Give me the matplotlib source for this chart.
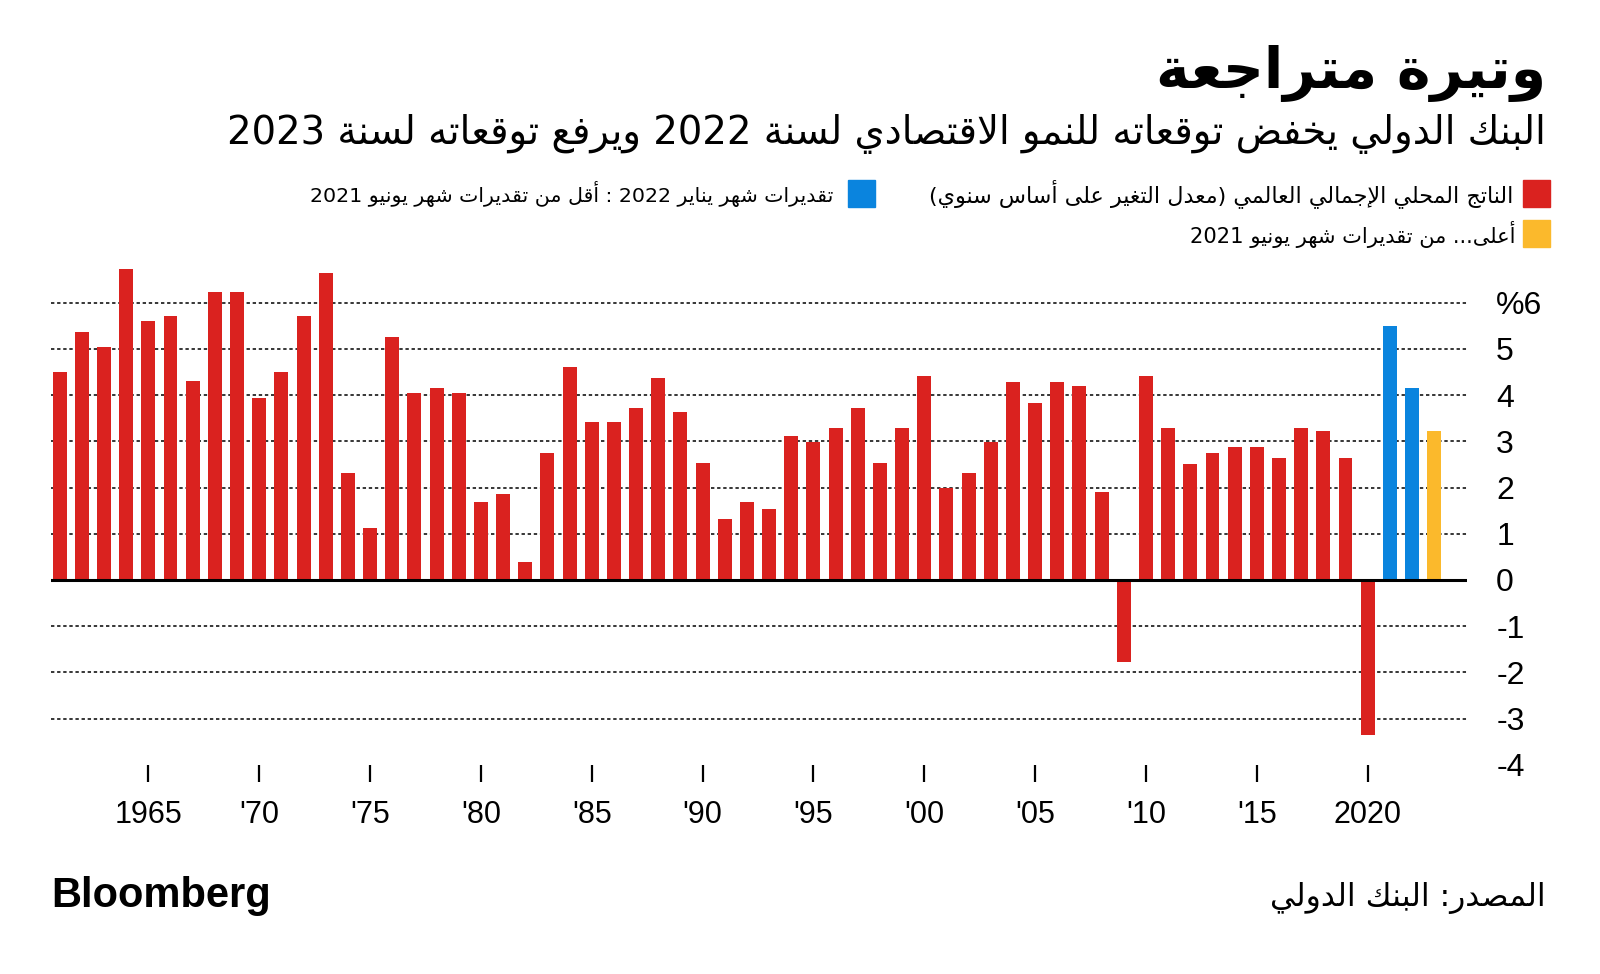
"""Bloomberg Arabic chart: world GDP growth with World Bank forecasts."""

import matplotlib

matplotlib.use("Agg")

import re  # noqa: E402

import matplotlib.pyplot as plt  # noqa: E402
from matplotlib.patches import Rectangle  # noqa: E402

# ---- data ----
years = list(range(1961, 2021))
gdp_growth = [
    4.50, 5.36, 5.05, 6.73, 5.61, 5.72, 4.30, 6.24, 6.24, 3.94,
    4.50, 5.72, 6.65, 2.31, 1.12, 5.26, 4.05, 4.16, 4.05, 1.68,
    1.87, 0.38, 2.75, 4.61, 3.41, 3.41, 3.73, 4.38, 3.63, 2.54,
    1.33, 1.69, 1.54, 3.11, 2.99, 3.30, 3.73, 2.54, 3.30, 4.41,
    2.00, 2.32, 2.99, 4.29, 3.84, 4.29, 4.20, 1.90, -1.77, 4.41,
    3.30, 2.52, 2.75, 2.88, 2.88, 2.63, 3.30, 3.22, 2.63, -3.35,
]
lower_years = [2021, 2022]
lower_values = [5.50, 4.15]
higher_years = [2023]
higher_values = [3.22]

tick_years = list(range(1965, 2021, 5))
tick_labels = ["1965", "'70", "'75", "'80", "'85", "'90", "'95", "'00",
               "'05", "'10", "'15", "2020"]
y_ticks = list(range(-4, 7))
y_labels = ["-4", "-3", "-2", "-1", "0", "1", "2", "3", "4", "5", "%6"]

title = "وتيرة متراجعة"
subtitle = "البنك الدولي يخفض توقعاته للنمو الاقتصادي لسنة 2022 ويرفع توقعاته لسنة 2023"
legend_gdp = "الناتج المحلي الإجمالي العالمي (معدل التغير على أساس سنوي)"
legend_lower = "تقديرات شهر يناير 2022 : أقل من تقديرات شهر يونيو 2021"
legend_higher = "أعلى... من تقديرات شهر يونيو 2021"
source = "المصدر: البنك الدولي"

RED = "#DA221F"
BLUE = "#0A84DE"
YELLOW = "#FBB92C"

# ---- minimal Arabic shaping + RTL (no arabic_reshaper available) ----
# letter -> (isolated presentation form, number of forms)
AR_FORMS = {
    "ء": (0xFE80, 1), "آ": (0xFE81, 2), "أ": (0xFE83, 2), "ؤ": (0xFE85, 2),
    "إ": (0xFE87, 2), "ئ": (0xFE89, 4), "ا": (0xFE8D, 2), "ب": (0xFE8F, 4),
    "ة": (0xFE93, 2), "ت": (0xFE95, 4), "ث": (0xFE99, 4), "ج": (0xFE9D, 4),
    "ح": (0xFEA1, 4), "خ": (0xFEA5, 4), "د": (0xFEA9, 2), "ذ": (0xFEAB, 2),
    "ر": (0xFEAD, 2), "ز": (0xFEAF, 2), "س": (0xFEB1, 4), "ش": (0xFEB5, 4),
    "ص": (0xFEB9, 4), "ض": (0xFEBD, 4), "ط": (0xFEC1, 4), "ظ": (0xFEC5, 4),
    "ع": (0xFEC9, 4), "غ": (0xFECD, 4), "ف": (0xFED1, 4), "ق": (0xFED5, 4),
    "ك": (0xFED9, 4), "ل": (0xFEDD, 4), "م": (0xFEE1, 4), "ن": (0xFEE5, 4),
    "ه": (0xFEE9, 4), "و": (0xFEED, 2), "ى": (0xFEEF, 2), "ي": (0xFEF1, 4),
}
LAM_ALEF = {"آ": 0xFEF5, "أ": 0xFEF7, "إ": 0xFEF9, "ا": 0xFEFB}


def ar(text):
    # tokens: (char, base, n) ; lam-alef becomes one 2-form token
    toks = []
    i = 0
    while i < len(text):
        c = text[i]
        if c == "ل" and i + 1 < len(text) and text[i + 1] in LAM_ALEF:
            toks.append((None, LAM_ALEF[text[i + 1]], 2))
            i += 2
            continue
        if c in AR_FORMS:
            toks.append((c,) + AR_FORMS[c])
        else:
            toks.append((c, None, 0))
        i += 1
    out = []
    for k, (c, base, n) in enumerate(toks):
        if base is None:
            out.append(c)
            continue
        prev_j = k > 0 and toks[k - 1][2] == 4 and n >= 2
        next_j = n == 4 and k + 1 < len(toks) and toks[k + 1][2] >= 2
        if n == 4:
            off = {(False, False): 0, (True, False): 1,
                   (False, True): 2, (True, True): 3}[(prev_j, next_j)]
        elif n == 2:
            off = 1 if prev_j else 0
        else:
            off = 0
        out.append(chr(base + off))
    vis = "".join(out)[::-1].translate(str.maketrans("()", ")("))
    return re.sub(r"[0-9]+", lambda m: m.group(0)[::-1], vis)


# ---- figure ----
W, H = 1600, 974
plt.rcParams["font.family"] = ["Liberation Sans", "DejaVu Sans"]
fig = plt.figure(figsize=(W / 100, H / 100), dpi=100)
fig.patch.set_facecolor("white")

x_left, x_right = 1960.61, 2024.48
y_bottom, y_top = -4, 6.9
ax = fig.add_axes([51 / W, 1 - 764.8 / H, 1416 / W, (764.8 - 261.2) / H])

bar_w = 0.63
ax.bar(years, gdp_growth, width=bar_w, color=RED, zorder=2)
ax.bar(lower_years, lower_values, width=bar_w, color=BLUE, zorder=2)
ax.bar(higher_years, higher_values, width=bar_w, color=YELLOW, zorder=2)

for v in [-3, -2, -1, 1, 2, 3, 4, 5, 6]:
    ax.axhline(v, color="black", lw=1.1, linestyle=(0, (2.2, 1.8)), zorder=1)
ax.axhline(0, color="black", lw=2.2, zorder=3)

ax.set_xlim(x_left, x_right)
ax.set_ylim(y_bottom, y_top)
for sp in ax.spines.values():
    sp.set_visible(False)

ax.set_xticks(tick_years)
ax.set_xticklabels(tick_labels, fontsize=22)
ax.tick_params(axis="x", direction="out", length=12.2, width=1.6,
               pad=13, colors="black")

ax.yaxis.tick_right()
ax.set_yticks(y_ticks)
ax.set_yticklabels(y_labels, fontsize=23)
ax.tick_params(axis="y", length=0, pad=21)

# ---- texts ----
renderer = fig.canvas.get_renderer()


def fit_text(x_r, y_c, s, width_px, size, **kw):
    t = fig.text(x_r / W, 1 - y_c / H, s, ha="right", va="center",
                 fontsize=size, **kw)
    bb = t.get_window_extent(renderer)
    t.set_fontsize(size * width_px / bb.width)
    return t


ar_font = ["DejaVu Sans"]
fit_text(1546, 73, ar(title), 390, 40, family=ar_font, fontweight="bold")
fit_text(1546, 134, ar(subtitle), 1324, 24, family=ar_font)
fit_text(1513, 194, ar(legend_gdp), 588, 17, family=ar_font)
fit_text(833, 194, ar(legend_lower), 520, 17, family=ar_font)
fit_text(1515, 234, ar(legend_higher), 325, 17, family=ar_font)
fit_text(1546, 898, ar(source), 276, 20, family=ar_font)

bl = fig.text(51 / W, 1 - 896 / H, "Bloomberg", ha="left", va="center",
              fontsize=28, fontweight="bold", family=["Liberation Sans"])
bb = bl.get_window_extent(renderer)
bl.set_fontsize(28 * 220 / bb.width)

for (x0, y0), col in [((1523, 180), RED), ((848, 180), BLUE),
                      ((1523, 220), YELLOW)]:
    fig.patches.append(Rectangle((x0 / W, 1 - (y0 + 27) / H), 27 / W, 27 / H,
                                 transform=fig.transFigure, color=col))

fig.savefig("out.png", dpi=100, facecolor="white")
